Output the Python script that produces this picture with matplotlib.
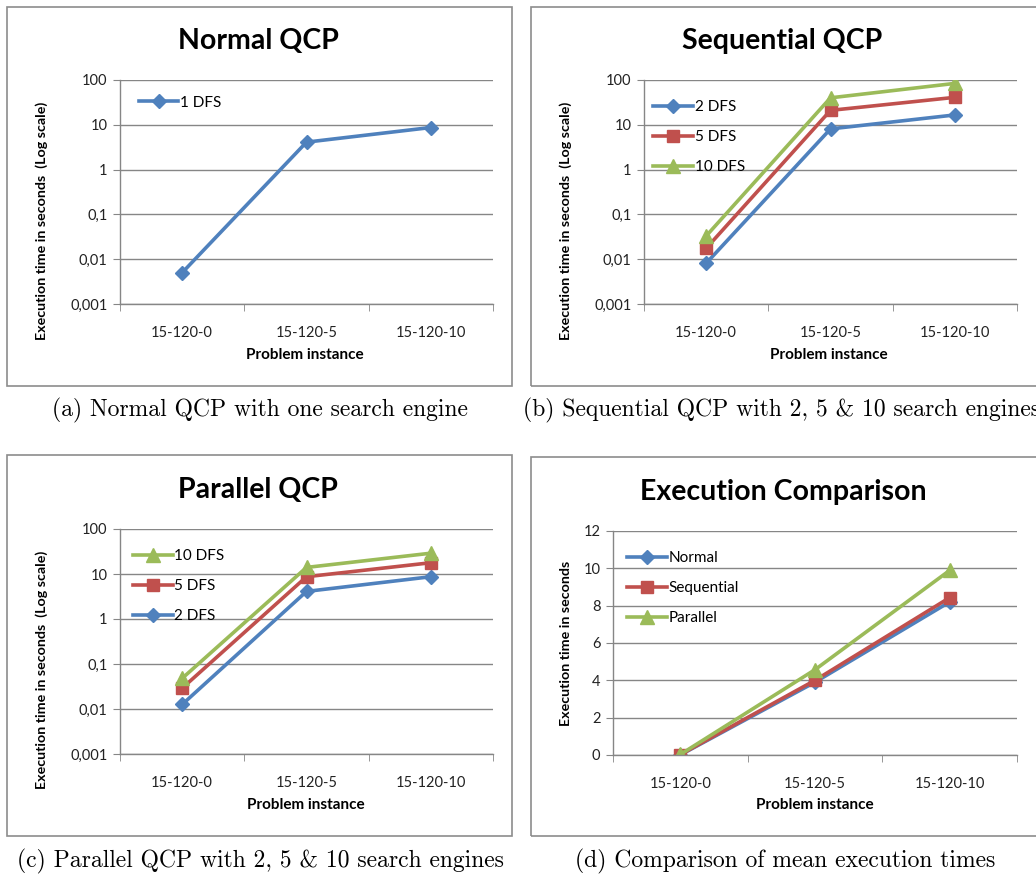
import matplotlib.pyplot as plt
from matplotlib.patches import Rectangle

# =========================
# data
# =========================
instances = ["15-120-0", "15-120-5", "15-120-10"]

normal_1dfs = [0.005, 4.1, 8.7]

seq_2dfs = [0.0081, 8.1, 16.6]
seq_5dfs = [0.0175, 21.0, 41.0]
seq_10dfs = [0.033, 40.0, 84.0]

par_2dfs = [0.0126, 4.1, 8.7]
par_5dfs = [0.029, 8.7, 17.8]
par_10dfs = [0.048, 14.0, 29.0]

cmp_normal = [0.005, 3.9, 8.2]
cmp_sequential = [0.02, 4.0, 8.43]
cmp_parallel = [0.03, 4.57, 9.89]

log_ticks = [0.001, 0.01, 0.1, 1, 10, 100]
log_ticklabels = ["0,001", "0,01", "0,1", "1", "10", "100"]
lin_ticks = [0, 2, 4, 6, 8, 10, 12]

# =========================
# style
# =========================
W, H = 1036, 876
BLUE = "#4F81BD"
RED = "#C0504D"
GREEN = "#9BBB59"
GRID = "#868686"
FONT = "Lato"
SERIF = ["cmr10", "DejaVu Serif"]
TITLE_SIZE = 20.5
LABEL_SIZE = 10.3
CAPTION_SIZE = 17

plt.rcParams["font.family"] = [FONT, "DejaVu Sans"]
plt.rcParams["axes.unicode_minus"] = False

fig = plt.figure(figsize=(W / 100, H / 100), dpi=100)


def px_axes(left, top, right, bottom):
    return fig.add_axes([left / W, 1 - bottom / H, (right - left) / W, (bottom - top) / H])


def fig_text(x, y, s, **kw):
    fig.text(x / W, 1 - y / H, s, **kw)


def frame(left, top, right, bottom):
    fig.patches.append(Rectangle((left / W, 1 - bottom / H), (right - left) / W, (bottom - top) / H,
                                 transform=fig.transFigure, fill=False, edgecolor="#8c8c8c",
                                 linewidth=1.2, zorder=0))


def style_axes(ax, log=True):
    x = list(range(len(instances)))
    ax.set_xlim(-0.5, len(instances) - 0.5)
    if log:
        ax.set_yscale("log")
        ax.set_ylim(0.001, 100)
        ax.set_yticks(log_ticks)
        ax.set_yticklabels(log_ticklabels)
        ax.minorticks_off()
    else:
        ax.set_ylim(0, 12)
        ax.set_yticks(lin_ticks)
    ax.set_xticks(x)
    ax.set_xticklabels(instances, fontsize=10.5, color="#222222")
    ax.set_xticks([-0.5, 0.5, 1.5, 2.5], minor=True)
    ax.tick_params(axis="x", which="major", length=0, pad=16)
    ax.tick_params(axis="x", which="minor", length=5, color=GRID, direction="out")
    ax.tick_params(axis="y", length=5, color=GRID, labelsize=10.5, labelcolor="#222222", pad=4)
    ax.grid(axis="y", color=GRID, linewidth=1)
    ax.set_axisbelow(True)
    for side in ["top", "right"]:
        ax.spines[side].set_visible(False)
    for side in ["left", "bottom"]:
        ax.spines[side].set_color(GRID)
        ax.spines[side].set_linewidth(1)
    ax.set_facecolor("none")


def draw(ax, series):
    x = list(range(len(instances)))
    for vals, color, marker, ms, label in series:
        ax.plot(x, vals, color=color, linewidth=2.6, marker=marker, markersize=ms,
                label=label, solid_joinstyle="round")


def legend(ax, order, anchor, spacing):
    handles, labels = ax.get_legend_handles_labels()
    idx = [labels.index(name) for name in order]
    ax.legend([handles[i] for i in idx], [labels[i] for i in idx], loc="upper left",
              bbox_to_anchor=anchor, frameon=False, fontsize=11, handlelength=2.6,
              handletextpad=0.1, labelspacing=spacing, borderaxespad=0, borderpad=0)


def labels(title, title_xy, ylabel, ylabel_xy, xlabel_xy, caption, caption_xy, caption_ha="center"):
    fig_text(*title_xy, title, ha="center", va="center", fontsize=TITLE_SIZE, fontweight="bold")
    fig_text(*ylabel_xy, ylabel, ha="center", va="center", rotation=90,
             fontsize=LABEL_SIZE, fontweight="bold")
    fig_text(*xlabel_xy, "Problem instance", ha="center", va="center",
             fontsize=11, fontweight="bold")
    fig_text(*caption_xy, caption, ha=caption_ha, va="center", fontsize=CAPTION_SIZE, family=SERIF)


# ---------- (a) ----------
frame(7, 7, 512, 386)
ax = px_axes(120, 80, 493, 304)
style_axes(ax)
draw(ax, [(normal_1dfs, BLUE, "D", 7.5, "1 DFS")])
legend(ax, ["1 DFS"], (0.05, 0.93), 1.0)
labels("Normal QCP", (258, 41), "Execution time in seconds  (Log scale)", (42, 221), (305, 355),
       "(a) Normal QCP with one search engine", (260, 410))

# ---------- (b) ----------
frame(531, 7, 1040, 386)
ax = px_axes(644, 80, 1017, 304)
style_axes(ax)
draw(ax, [(seq_2dfs, BLUE, "D", 7.5, "2 DFS"),
          (seq_5dfs, RED, "s", 8.5, "5 DFS"),
          (seq_10dfs, GREEN, "^", 9.5, "10 DFS")])
legend(ax, ["2 DFS", "5 DFS", "10 DFS"], (0.025, 0.91), 1.05)
labels("Sequential QCP", (782, 41), "Execution time in seconds  (Log scale)", (566, 221), (829, 355),
       "(b) Sequential QCP with 2, 5 & 10 search engines", (523, 410), caption_ha="left")

# ---------- (c) ----------
frame(7, 455, 512, 836)
ax = px_axes(120, 529, 493, 754)
style_axes(ax)
draw(ax, [(par_2dfs, BLUE, "D", 7.5, "2 DFS"),
          (par_5dfs, RED, "s", 8.5, "5 DFS"),
          (par_10dfs, GREEN, "^", 9.5, "10 DFS")])
legend(ax, ["10 DFS", "5 DFS", "2 DFS"], (0.035, 0.91), 1.05)
labels("Parallel QCP", (258, 490), "Execution time in seconds  (Log scale)", (42, 670), (306, 805),
       "(c) Parallel QCP with 2, 5 & 10 search engines", (260, 861))

# ---------- (d) ----------
frame(531, 457, 1040, 836)
ax = px_axes(613, 531, 1017, 755)
style_axes(ax, log=False)
draw(ax, [(cmp_normal, BLUE, "D", 7.5, "Normal"),
          (cmp_sequential, RED, "s", 8.5, "Sequential"),
          (cmp_parallel, GREEN, "^", 9.5, "Parallel")])
legend(ax, ["Normal", "Sequential", "Parallel"], (0.035, 0.91), 1.05)
labels("Execution Comparison", (783, 492), "Execution time in seconds", (566, 643), (815, 805),
       "(d) Comparison of mean execution times", (785, 861))

fig.savefig("out.png", dpi=100)
